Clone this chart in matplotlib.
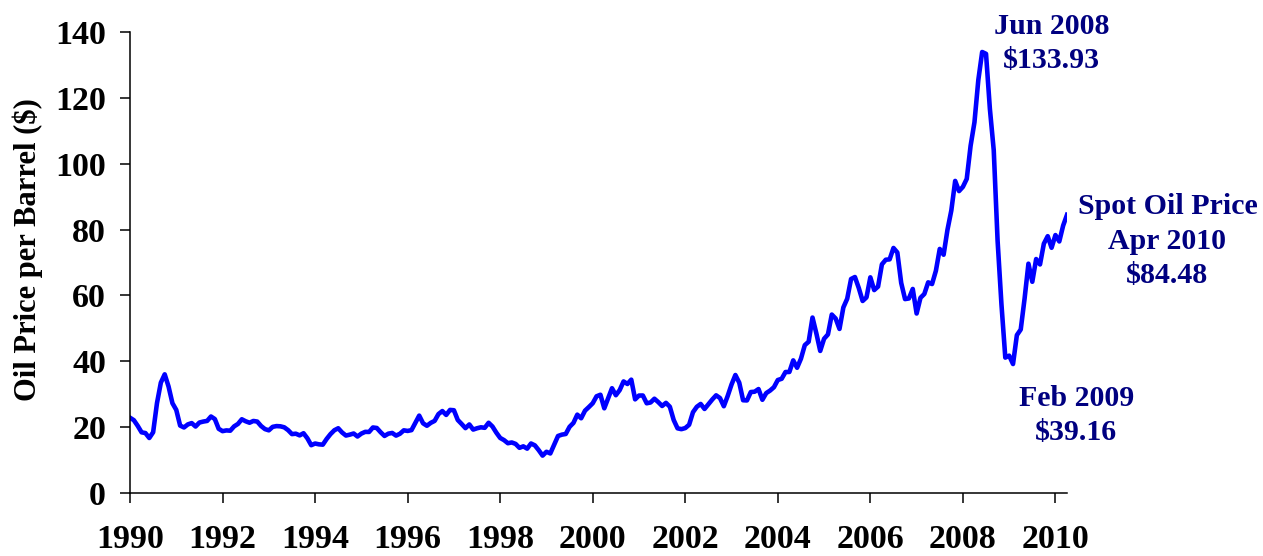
import numpy as np
import matplotlib
matplotlib.use("Agg")
import matplotlib.pyplot as plt

# Monthly spot oil price ($/barrel), Jan 1990 - Apr 2010
spot_price = [
    22.86, 22.11, 20.39, 18.43, 18.20, 16.70, 18.45, 27.31, 33.51, 36.04, 32.33, 27.28,  # 1990
    25.23, 20.48, 19.90, 20.83, 21.23, 20.19, 21.40, 21.69, 21.89, 23.23, 22.46, 19.50,  # 1991
    18.79, 19.01, 18.92, 20.23, 20.98, 22.39, 21.78, 21.34, 21.88, 21.69, 20.34, 19.41,  # 1992
    19.03, 20.09, 20.32, 20.25, 19.95, 19.09, 17.89, 18.01, 17.50, 18.15, 16.61, 14.52,  # 1993
    15.03, 14.78, 14.68, 16.42, 17.89, 19.06, 19.66, 18.38, 17.45, 17.72, 18.07, 17.16,  # 1994
    18.04, 18.57, 18.54, 19.90, 19.74, 18.45, 17.33, 18.02, 18.23, 17.43, 17.99, 19.03,  # 1995
    18.85, 19.09, 21.33, 23.50, 21.17, 20.42, 21.30, 21.90, 23.97, 24.88, 23.71, 25.23,  # 1996
    25.13, 22.18, 20.97, 19.70, 20.82, 19.26, 19.66, 19.95, 19.80, 21.33, 20.19, 18.33,  # 1997
    16.72, 16.06, 15.12, 15.35, 14.91, 13.72, 14.17, 13.47, 15.03, 14.46, 13.00, 11.35,  # 1998
    12.52, 12.01, 14.68, 17.31, 17.72, 17.92, 20.10, 21.28, 23.80, 22.69, 25.00, 26.10,  # 1999
    27.26, 29.37, 29.84, 25.72, 28.79, 31.82, 29.70, 31.26, 33.88, 33.11, 34.42, 28.44,  # 2000
    29.59, 29.61, 27.25, 27.49, 28.63, 27.60, 26.43, 27.37, 26.20, 22.17, 19.64, 19.39,  # 2001
    19.72, 20.72, 24.53, 26.18, 27.04, 25.52, 26.97, 28.39, 29.66, 28.84, 26.35, 29.46,  # 2002
    32.95, 35.83, 33.51, 28.17, 28.11, 30.66, 30.76, 31.57, 28.31, 30.34, 31.11, 32.13,  # 2003
    34.31, 34.69, 36.74, 36.75, 40.28, 38.03, 40.78, 44.90, 45.94, 53.28, 48.47, 43.15,  # 2004
    46.84, 48.15, 54.19, 52.98, 49.83, 56.35, 59.00, 64.99, 65.59, 62.26, 58.32, 59.41,  # 2005
    65.49, 61.63, 62.69, 69.44, 70.84, 70.95, 74.41, 73.04, 63.80, 58.89, 59.08, 61.96,  # 2006
    54.51, 59.28, 60.44, 63.98, 63.46, 67.49, 74.12, 72.36, 79.92, 85.80, 94.77, 91.69,  # 2007
    92.97, 95.39, 105.45, 112.58, 125.40, 133.93, 133.37, 116.67, 104.11, 76.61, 57.31, 41.12,  # 2008
    41.71, 39.16, 47.94, 49.65, 59.03, 69.64, 64.15, 71.05, 69.41, 75.72, 77.99, 74.47,  # 2009
    78.33, 76.39, 81.20, 84.48,  # 2010
]
start_year = 1990

year_ticks = [1990, 1992, 1994, 1996, 1998, 2000, 2002, 2004, 2006, 2008, 2010]
price_ticks = [0, 20, 40, 60, 80, 100, 120, 140]

note_texts = ["Jun 2008\n$133.93", "Spot Oil Price\nApr 2010\n$84.48", "Feb 2009\n$39.16"]
note_x = [2009.91, 2012.42, 2010.45]
note_y = [129.1, 63.8, 16.1]   # baseline of the last line

plt.rcParams['font.family'] = ['Liberation Serif', 'DejaVu Serif']
plt.rcParams['font.weight'] = 'bold'

t = start_year + np.arange(len(spot_price)) / 12.0

fig = plt.figure(figsize=(12.63, 5.56), dpi=100)
ax = fig.add_axes([130 / 1263, 1 - 493 / 556, (1067 - 130) / 1263, (493 - 32) / 556])

ax.plot(t, spot_price, color='#0000FF', lw=3.3, solid_joinstyle='round')

ax.set_xlim(1990, 2010.25)
ax.set_ylim(0, 140)
ax.set_xticks(year_ticks)
ax.set_yticks(price_ticks)
ax.spines['top'].set_visible(False)
ax.spines['right'].set_visible(False)
for s in ['left', 'bottom']:
    ax.spines[s].set_linewidth(1.1)
ax.tick_params(axis='both', direction='out', length=7.2, width=1.1, labelsize=24.5)
ax.tick_params(axis='y', pad=10)
ax.tick_params(axis='x', pad=15)
for lbl in ax.get_xticklabels() + ax.get_yticklabels():
    lbl.set_fontweight('bold')

ax.set_ylabel('Oil Price per Barrel ($)', fontsize=22, fontweight='bold')
ax.yaxis.set_label_coords(-0.093, 0.527)

for txt, x, y in zip(note_texts, note_x, note_y):
    ax.text(x, y, txt, ha='center', va='baseline', fontsize=21.5,
            fontweight='bold', color='#000080', linespacing=1.35, clip_on=False)

fig.savefig('out.png', dpi=100)
